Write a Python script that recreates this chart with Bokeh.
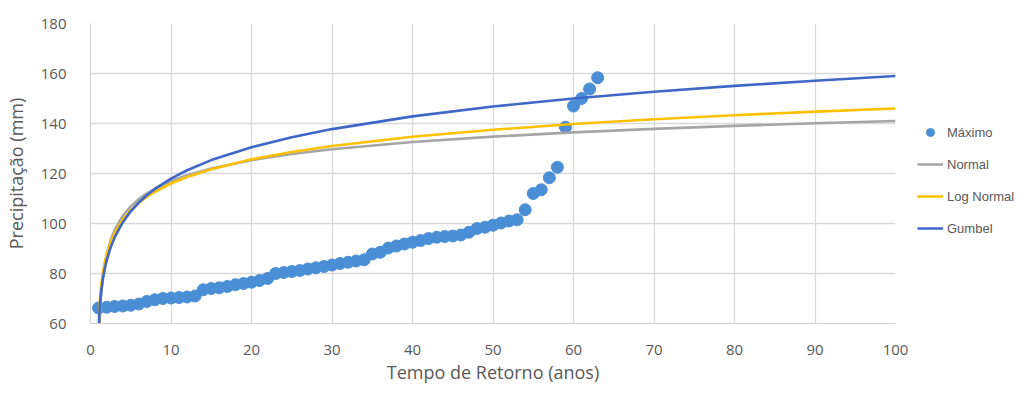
from bokeh.plotting import figure
from bokeh.layouts import row
from bokeh.models import Legend, LegendItem, FixedTicker, Range1d
from bokeh.embed import file_html
from bokeh.resources import INLINE

# Observed maxima (sorted) vs. return time
max_t = list(range(1, 64))
max_p = [66.2, 66.5, 66.8, 67.0, 67.3, 67.8, 68.8, 69.5, 70.0, 70.2,
         70.4, 70.6, 71.0, 73.5, 74.0, 74.3, 74.8, 75.5, 76.0, 76.5,
         77.2, 78.0, 80.0, 80.4, 80.8, 81.2, 81.8, 82.3, 82.8, 83.4,
         84.0, 84.5, 85.0, 85.5, 87.8, 88.5, 90.2, 91.0, 91.8, 92.5,
         93.2, 94.0, 94.5, 94.8, 95.0, 95.4, 96.5, 98.0, 98.5, 99.3,
         100.2, 101.0, 101.5, 105.5, 112.0, 113.5, 118.3, 122.5, 138.5, 147.0,
         150.0, 153.8, 158.3]

# Fitted curves, read at these return times
curve_t = [1.05, 1.1, 1.2, 1.3, 1.5, 1.75, 2, 2.5, 3, 4, 5, 6, 7, 8, 10, 12, 15,
           20, 25, 30, 40, 50, 60, 70, 80, 90, 100]
normal_p = [49.1, 56.8, 65.25, 70.57, 77.59, 83.36, 87.5, 93.33, 97.41, 103.01,
            106.86, 109.75, 112.06, 113.96, 116.98, 119.31, 122.03, 125.33, 127.77,
            129.68, 132.58, 134.74, 136.44, 137.85, 139.05, 140.10, 141.0]
lognormal_p = [60.59, 65.20, 70.69, 74.39, 79.57, 84.08, 87.48, 92.50, 96.18, 101.49,
               105.29, 108.25, 110.67, 112.70, 116.00, 118.62, 121.74, 125.66, 128.62,
               131.00, 134.69, 137.50, 139.77, 141.67, 143.31, 144.75, 146.01]
gumbel_p = [59.27, 63.44, 68.52, 72.02, 77.06, 81.59, 85.10, 90.42, 94.45, 100.44,
            104.87, 108.40, 111.33, 113.83, 117.97, 121.31, 125.36, 130.53, 134.51,
            137.76, 142.85, 146.79, 150.00, 152.71, 155.06, 157.12, 158.97]

x_ticks = [0, 10, 20, 30, 40, 50, 60, 70, 80, 90, 100]
y_ticks = [60, 80, 100, 120, 140, 160, 180]

MAX_C, NORM_C, LOGN_C, GUMB_C = "#4a8fd6", "#a5a5a5", "#ffc000", "#3f67c8"

p = figure(width=912, height=386, output_backend="svg", toolbar_location=None,
           x_range=Range1d(0, 100), y_range=Range1d(60, 180),
           min_border_left=89, min_border_top=23, min_border_bottom=63,
           min_border_right=17)
p.outline_line_color = None
p.background_fill_color = "white"
p.border_fill_color = "white"

p.scatter(max_t, max_p, size=12, color=MAX_C, line_color=MAX_C)
p.line(curve_t, normal_p, line_width=2.6, color=NORM_C)
p.line(curve_t, lognormal_p, line_width=2.6, color=LOGN_C)
p.line(curve_t, gumbel_p, line_width=2.6, color=GUMB_C)

p.xaxis.ticker = FixedTicker(ticks=x_ticks)
p.yaxis.ticker = FixedTicker(ticks=y_ticks)
for ax in (p.xaxis[0], p.yaxis[0]):
    ax.major_tick_line_color = None
    ax.minor_tick_line_color = None
    ax.axis_line_color = "#d0d0d0"
    ax.major_label_text_font = "Open Sans"
    ax.major_label_text_font_size = "15px"
    ax.major_label_text_color = "#595959"
    ax.axis_label_text_font = "Open Sans"
    ax.axis_label_text_font_size = "18px"
    ax.axis_label_text_font_style = "normal"
    ax.axis_label_text_color = "#595959"
p.xaxis.axis_label = "Tempo de Retorno (anos)"
p.yaxis.axis_label = "Precipitação (mm)"
p.xaxis.major_label_standoff = 15
p.yaxis.major_label_standoff = 18
p.xaxis.axis_label_standoff = 2
p.yaxis.axis_label_standoff = 10

p.xgrid.grid_line_color = "#d9d9d9"
p.ygrid.grid_line_color = "#d9d9d9"
p.xgrid.grid_line_width = 1.3
p.ygrid.grid_line_width = 1.3

# Legend panel (separate figure to the right of the plot area)
lg = figure(width=102, height=386, output_backend="svg", toolbar_location=None,
            x_range=Range1d(0, 1), y_range=Range1d(0, 1),
            x_axis_type=None, y_axis_type=None,
            min_border_left=0, min_border_right=0, min_border_top=0, min_border_bottom=0)
lg.outline_line_color = None
lg.grid.visible = False
# legend-only renderers, placed outside the visible range
r_m = lg.scatter([5], [5], size=10, color=MAX_C, line_color=MAX_C)
r_n = lg.line([5, 6], [5, 6], line_width=2.5, color=NORM_C)
r_l = lg.line([5, 6], [5, 6], line_width=2.5, color=LOGN_C)
r_g = lg.line([5, 6], [5, 6], line_width=2.5, color=GUMB_C)

legend = Legend(items=[
    LegendItem(label="Máximo", renderers=[r_m]),
    LegendItem(label="Normal", renderers=[r_n]),
    LegendItem(label="Log Normal", renderers=[r_l]),
    LegendItem(label="Gumbel", renderers=[r_g]),
], location=(5, 85))
legend.label_text_font = "Liberation Sans"
legend.label_text_font_size = "13px"
legend.label_text_color = "#595959"
legend.border_line_color = None
legend.background_fill_alpha = 0
legend.glyph_width = 26
legend.glyph_height = 20
legend.label_height = 20
legend.spacing = 12
legend.padding = 2
legend.margin = 0
legend.label_standoff = 4
lg.add_layout(legend, "center")

layout = row(p, lg, spacing=0)
open("out.html", "w").write(file_html(layout, INLINE))
